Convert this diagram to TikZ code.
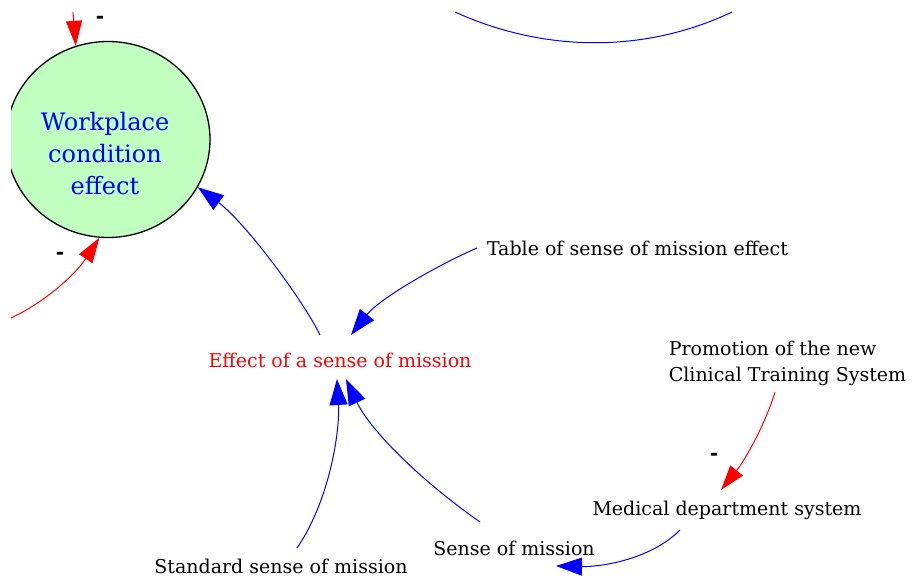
\documentclass[tikz,border=0pt]{standalone}
\usepackage{fontspec}
\setmainfont{DejaVu Serif}
\newfontfamily\signfont{DejaVu Sans}
\usetikzlibrary{arrows.meta,shapes.geometric,calc}
\definecolor{nodegreen}{RGB}{192,255,192}
\tikzset{
  lbl/.style={inner sep=0pt, font=\fontsize{19}{26}\selectfont, align=center},
  bluearrow/.style={draw=blue, line width=1pt, -{Triangle[length=26pt,width=18pt]}},
  redarrow/.style={draw=red, line width=1pt, -{Triangle[length=25pt,width=16pt]}},
  sign/.style={inner sep=0pt, font=\signfont\bfseries\fontsize{20}{22}\selectfont},
}
\begin{document}
\begin{tikzpicture}[x=1pt,y=-1pt]
\useasboundingbox (0,0) rectangle (913,578);
\begin{scope}
  \clip (11,0) rectangle (913,578);
  \node[ellipse, draw=black, line width=1.3pt, fill=nodegreen, minimum width=204pt, minimum height=196pt, inner sep=0pt] (wce) at (108,139.5) {};
\end{scope}
\node[inner sep=0pt, text=blue, align=center, font=\fontsize{24}{32}\selectfont] (wcet) at (105,154) {Workplace\\condition\\effect};

\node[lbl, text=red] (eff) at (340,360) {Effect of a sense of mission};
\node[lbl] (tab) at (637.5,248) {Table of sense of mission effect};
\node[lbl, align=left] (prom) at (787.5,363) {Promotion of the new\\Clinical Training System};
\node[lbl] (med) at (727,510) {Medical department system};
\node[lbl] (som) at (514,548) {Sense of mission};
\node[lbl] (std) at (281,566) {Standard sense of mission};

\coordinate (arcL) at (455,12);
\coordinate (arcR) at (732,12);
\coordinate (topin) at (73,12);
\coordinate (leftin) at (11,318);

\node[sign] (m1) at (100,20) {-};
\node[sign] (m2) at (60,256) {-};
\node[sign] (m3) at (714,457) {-};

% arc at top
\draw[blue, line width=1pt] (arcL) .. controls (545,53) and (646,53) .. (arcR);
% red arrows into ellipse
\draw[redarrow] (topin) .. controls (74,25) and (75,35) .. (wce.109);
\draw[redarrow] (leftin) .. controls (45,302) and (75,275) .. (wce.265);
% effect -> ellipse
\draw[bluearrow] ($(eff.center)+(-20,-25)$) .. controls (303,300) and (245,222) .. (wce.332);
% table -> effect
\draw[bluearrow] ($(tab.center)+(-160.5,0)$) .. controls (440,264) and (380,298) .. ($(eff.center)+(11,-25)$);
% standard -> effect
\draw[bluearrow] ($(std.center)+(16,-18)$) .. controls (330,500) and (340,430) .. ($(eff.center)+(-3,19)$);
% sense -> effect
\draw[bluearrow] ($(som.center)+(-34,-26)$) .. controls (420,480) and (370,430) .. ($(eff.center)+(6,19)$);
% promotion -> medical
\draw[redarrow] ($(prom.center)+(-12.5,29)$) .. controls (765,425) and (745,460) .. ($(med.center)+(-6,-20)$);
% medical -> sense
\draw[bluearrow] ($(med.center)+(-47,20)$) .. controls (650,560) and (600,567) .. ($(som.center)+(42,18)$);
\end{tikzpicture}
\end{document}
